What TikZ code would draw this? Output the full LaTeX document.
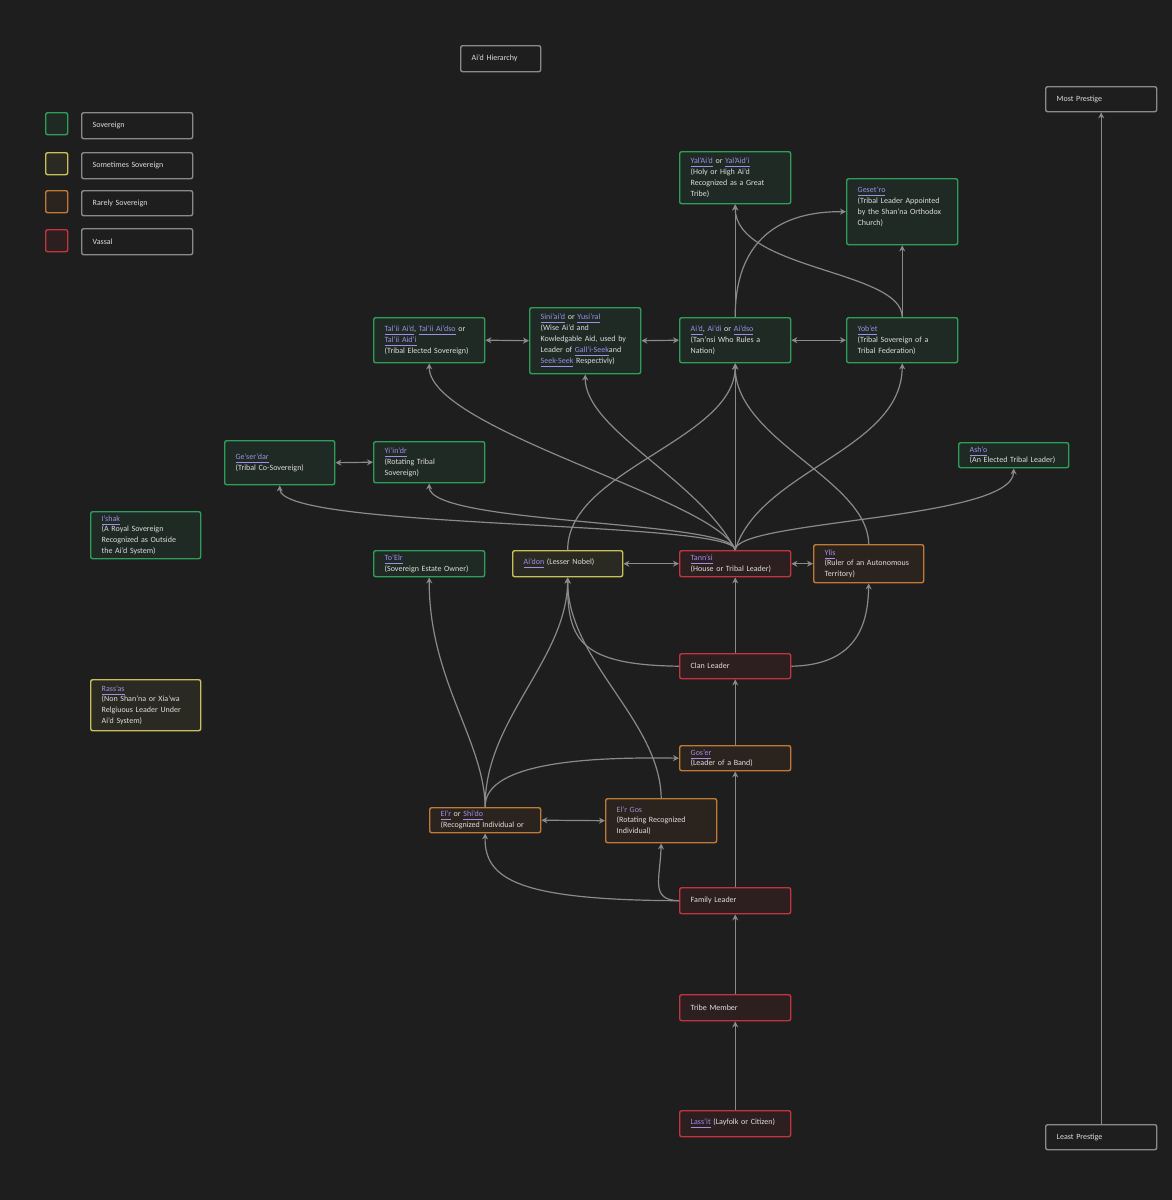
\documentclass[tikz,border=0pt]{standalone}
\usepackage{fontspec}
\setmainfont{Carlito}
\usetikzlibrary{arrows.meta}
\definecolor{bg}{HTML}{1E1E1E}
\definecolor{gB}{HTML}{2E9E5A}\definecolor{gF}{HTML}{1F2A24}
\definecolor{yB}{HTML}{C8C058}\definecolor{yF}{HTML}{2A2A22}
\definecolor{oB}{HTML}{C07A35}\definecolor{oF}{HTML}{2B241E}
\definecolor{rB}{HTML}{C0353F}\definecolor{rF}{HTML}{2D1F20}
\definecolor{tx}{HTML}{DDDDDD}\definecolor{lk}{HTML}{9F8FE8}
\definecolor{ed}{HTML}{8A8A8A}
\newcommand{\lk}[1]{\textcolor{lk}{\underline{#1}}}
\tikzset{
 x=0.5pt,y=-0.5pt,
 b/.style={draw, rounded corners=1pt, line width=0.7pt, text=tx, font=\fontsize{4}{5.4}\selectfont, align=left, inner sep=0pt, anchor=north west},
 G/.style={b,draw=gB,fill=gF}, Y/.style={b,draw=yB,fill=yF}, O/.style={b,draw=oB,fill=oF}, R/.style={b,draw=rB,fill=rF},
 W/.style={b,draw=ed,fill=bg},
 e/.style={draw=ed,line width=0.6pt,-{Stealth[length=3pt,width=3pt]}},
 ee/.style={e,{Stealth[length=3pt,width=3pt]}-{Stealth[length=3pt,width=3pt]}},
}
\begin{document}
\begin{tikzpicture}
\fill[bg] (0,0) rectangle (1172,1200);
\useasboundingbox (0,0) rectangle (1172,1200);
\newcommand{\B}[7]{\node[#1, minimum width=#4*0.5pt-#2*0.5pt, minimum height=#5*0.5pt-#3*0.5pt, text width=#4*0.5pt-#2*0.5pt-11pt, inner xsep=5.5pt] (#6) at (#2,#3) {#7};}
\B{W}{460}{45}{540}{71}{title}{Ai'd Hierarchy}
\node[b,draw=gB,fill=gF,minimum width=11pt,minimum height=11pt] (l1) at (45,112) {};
\node[b,draw=yB,fill=yF,minimum width=11pt,minimum height=11pt] (l2) at (45,152) {};
\node[b,draw=oB,fill=oF,minimum width=11pt,minimum height=11pt] (l3) at (45,190) {};
\node[b,draw=rB,fill=rF,minimum width=11pt,minimum height=11pt] (l4) at (45,229) {};
\B{W}{81}{112}{192}{138}{t1}{Sovereign}
\B{W}{81}{152}{192}{178}{t2}{Sometimes Sovereign}
\B{W}{81}{190}{192}{215}{t3}{Rarely Sovereign}
\B{W}{81}{228}{192}{254}{t4}{Vassal}
\B{W}{1045}{86}{1156}{111}{most}{Most Prestige}
\B{W}{1045}{1124}{1156}{1149}{least}{Least Prestige}
\B{G}{679}{151}{790}{203}{yal}{\lk{Yal'Ai'd} or \lk{Yal'Aid'i}\\(Holy or High Ai'd\\Recognized as a Great\\Tribe)}
\B{G}{846}{178}{957}{244}{ges}{\lk{Geset'ro}\\(Tribal Leader Appointed\\by the Shan'na Orthodox\\Church)\\~}
\B{G}{373}{317}{484}{362}{tal}{\lk{Tal'ii Ai'd}, \lk{Tal'ii Ai'dso} or\\\lk{Tal'ii Aid'i}\\(Tribal Elected Sovereign)}
\B{G}{529}{307}{640}{373}{sin}{\lk{Sini'ai'd} or \lk{Yusi'ral}\\(Wise Ai'd and\\Kowledgable Aid, used by\\Leader of \lk{Gall'i-Seek}and\\\lk{Seek-Seek} Respectivly)}
\B{G}{679}{317}{790}{362}{aid}{\lk{Ai'd}, \textcolor{lk}{Ai'di} or \lk{Ai'dso}\\(Tan'nsi Who Rules a\\Nation)}
\B{G}{846}{317}{957}{362}{yob}{\lk{Yob'et}\\(Tribal Sovereign of a\\Tribal Federation)}
\B{G}{224}{440}{334}{484}{gdar}{\lk{Ge'ser'dar}\\(Tribal Co-Sovereign)}
\B{G}{373}{441}{484}{482}{yii}{\lk{Yi'in'dr}\\(Rotating Tribal\\Sovereign)}
\B{G}{958}{442}{1068}{467}{ash}{\lk{Ash'o}\\(An Elected Tribal Leader)}
\B{G}{90}{511}{200}{558}{ish}{\lk{I'shak}\\(A Royal Sovereign\\Recognized as Outside\\the Ai'd System)}
\B{G}{373}{550}{484}{576}{toe}{\lk{To'Elr}\\(Sovereign Estate Owner)}
\B{Y}{512}{550}{622}{576}{adon}{\lk{Ai'don} (Lesser Nobel)}
\B{R}{679}{550}{790}{576}{tann}{\lk{Tann'si}\\(House or Tribal Leader)}
\B{O}{813}{544}{923}{582}{ylis}{\lk{Ylis}\\(Ruler of an Autonomous\\Territory)}
\B{R}{679}{653}{790}{678}{clan}{Clan Leader}
\B{Y}{90}{679}{200}{730}{rass}{\lk{Rass'as}\\(Non Shan'na or Xia'wa\\Relgiuous Leader Under\\Ai'd System)}
\B{O}{679}{745}{790}{770}{gos}{\lk{Gos'er}\\(Leader of a Band)}
\B{O}{429}{807}{540}{832}{elr}{\lk{El'r} or \lk{Shi'do}\\(Recognized Individual or}
\B{O}{605}{798}{716}{842}{elg}{\textcolor{lk!80!gray}{El'r Gos}\\(Rotating Recognized\\Individual)}
\B{R}{679}{887}{790}{913}{fam}{Family Leader}
\B{R}{679}{994}{790}{1020}{tri}{Tribe Member}
\B{R}{679}{1110}{790}{1136}{las}{\lk{Lass'it} (Layfolk or Citizen)}
% edges
\draw[e] (least.north) -- (most.south);
\draw[e] (las.north) -- (tri.south);
\draw[e] (tri.north) -- (fam.south);
\draw[e] (fam.north) -- (gos.south);
\draw[e] (gos.north) -- (clan.south);
\draw[e] (clan.north) -- (tann.south);
\draw[e] (fam.west) .. controls (520,900) and (484,880) .. (elr.south);
\draw[e] (fam.west) .. controls (650,900) and (660,880) .. (elg.south);
\draw[ee] (elr.east) -- (elg.west);
\draw[e] (elr.north) .. controls (484,760) and (600,757) .. (gos.west);
\draw[e] (elr.north) .. controls (484,740) and (429,680) .. (toe.south);
\draw[e] (elr.north) .. controls (484,720) and (567,660) .. (adon.south);
\draw[e] (elg.north) .. controls (660,720) and (567,660) .. (adon.south);
\draw[e] (clan.west) .. controls (580,665) and (567,640) .. (adon.south);
\draw[e] (clan.east) .. controls (860,665) and (868,620) .. (ylis.south);
\draw[ee] (adon.east) -- (tann.west);
\draw[ee] (tann.east) -- (ylis.west);
\draw[e] (tann.north) .. controls (735,520) and (280,530) .. (gdar.south);
\draw[e] (tann.north) .. controls (735,520) and (429,525) .. (yii.south);
\draw[e] (tann.north) .. controls (735,520) and (1013,520) .. (ash.south);
\draw[e] (tann.north) .. controls (720,500) and (429,430) .. (tal.south);
\draw[e] (tann.north) .. controls (700,480) and (585,430) .. (sin.south);
\draw[e] (tann.north) -- (aid.south);
\draw[e] (tann.north) .. controls (760,470) and (902,450) .. (yob.south);
\draw[e] (adon.north) .. controls (567,470) and (735,440) .. (aid.south);
\draw[e] (ylis.north) .. controls (868,480) and (735,440) .. (aid.south);
\draw[ee] (gdar.east) -- (yii.west);
\draw[ee] (tal.east) -- (sin.west);
\draw[ee] (sin.east) -- (aid.west);
\draw[ee] (aid.east) -- (yob.west);
\draw[e] (aid.north) -- (yal.south);
\draw[e] (aid.north) .. controls (735,240) and (780,211) .. (ges.west);
\draw[e] (yob.north) -- (ges.south);
\draw[e] (yob.north) .. controls (902,270) and (735,270) .. (yal.south);
\end{tikzpicture}
\end{document}
